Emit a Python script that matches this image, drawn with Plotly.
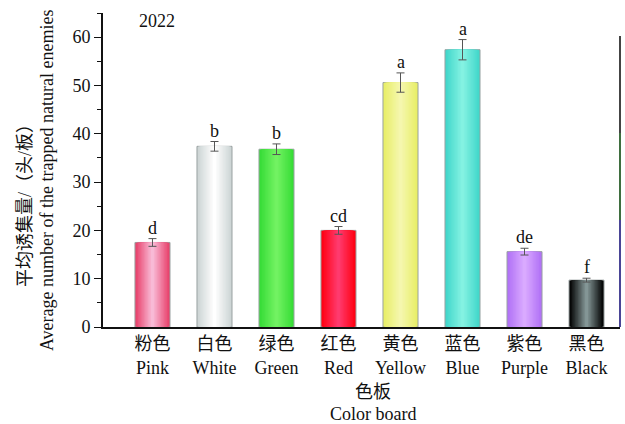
import plotly.graph_objects as go

# Mean number of natural enemies trapped per colour board (2022)
categories = ["粉色<br>Pink", "白色<br>White", "绿色<br>Green", "红色<br>Red",
              "黄色<br>Yellow", "蓝色<br>Blue", "紫色<br>Purple", "黑色<br>Black"]
means = [17.5, 37.4, 36.8, 20.0, 50.6, 57.4, 15.6, 9.7]
errors = [0.8, 1.0, 1.1, 0.8, 2.0, 2.1, 0.7, 0.4]
letters = ["d", "b", "b", "cd", "a", "a", "de", "f"]

# edge / centre colours for the shaded bar faces
edge_colors = ["#e8406a", "#ccd4d4", "#36dc36", "#ff0010", "#e8ee66", "#40d6ca", "#b070f6", "#000000"]
center_colors = ["#f8bad6", "#ffffff", "#72f262", "#ff3a6e", "#f5f7ae", "#84f2e2", "#daaaff", "#849696"]

FONT = "Liberation Serif, Noto Sans CJK SC, serif"
FS = 18
BAR_W = 0.565
LAYERS = 12


def hex2rgb(h):
    h = h.lstrip("#")
    return [int(h[i:i + 2], 16) for i in (0, 2, 4)]


def mix(c1, c2, t):
    a, b = hex2rgb(c1), hex2rgb(c2)
    r = [round(a[i] + (b[i] - a[i]) * t) for i in range(3)]
    return "rgb({},{},{})".format(*r)


fig = go.Figure()

# stacked-width overlay layers give each bar a horizontal light-centre shading
for k in range(LAYERS):
    frac = 1 - k / LAYERS
    t = k / (LAYERS - 1)
    fig.add_trace(go.Bar(
        x=categories, y=means, width=BAR_W * frac,
        marker=dict(color=[mix(e, c, t) for e, c in zip(edge_colors, center_colors)],
                    line=dict(color="#9aa2a2" if k == 0 else "rgba(0,0,0,0)", width=1 if k == 0 else 0)),
        showlegend=False, hoverinfo="skip" if k else None,
    ))

# standard error bars
fig.add_trace(go.Scatter(
    x=categories, y=means, mode="markers",
    marker=dict(opacity=0, size=1),
    error_y=dict(type="data", array=errors, visible=True, color="#555555", thickness=1, width=4),
    showlegend=False, hoverinfo="skip",
))

txt = dict(family=FONT, size=FS, color="#111")
annotations = []
for cat, m, e, lt in zip(categories, means, errors, letters):
    annotations.append(dict(x=cat, y=m + e, xref="x", yref="y", text=lt, showarrow=False,
                            yanchor="bottom", yshift=-1, font=txt))

annotations += [
    dict(x=0.1044, y=0.975, xref="paper", yref="paper", text="2022", showarrow=False,
         xanchor="center", yanchor="middle", font=txt),
    dict(x=-0.1509, y=0.401, xref="paper", yref="paper", text="平均诱集量/（头/板）",
         textangle=-90, showarrow=False, xanchor="center", yanchor="middle", font=txt),
    dict(x=-0.1083, y=0.468, xref="paper", yref="paper",
         text="Average number of the trapped natural enemies",
         textangle=-90, showarrow=False, xanchor="center", yanchor="middle", font=txt),
    dict(x=0.522, y=-0.207, xref="paper", yref="paper", text="色板", showarrow=False,
         xanchor="center", yanchor="middle", font=txt),
    dict(x=0.522, y=-0.277, xref="paper", yref="paper", text="Color board", showarrow=False,
         xanchor="center", yanchor="middle", font=txt),
]

# edge of the neighbouring panel on the right
shapes = [
    dict(type="line", xref="paper", yref="paper", x0=1.0, x1=1.0, y0=0.618, y1=0.927,
         line=dict(color="#444444", width=2), layer="above"),
    dict(type="line", xref="paper", yref="paper", x0=1.0, x1=1.0, y0=0.341, y1=0.618,
         line=dict(color="#3f6e3f", width=2), layer="above"),
    dict(type="line", xref="paper", yref="paper", x0=1.0, x1=1.0, y0=0.0, y1=0.341,
         line=dict(color="#4a4596", width=2), layer="above"),
]

fig.update_layout(
    width=625, height=424,
    margin=dict(l=103, r=5, t=13, b=97),
    paper_bgcolor="white", plot_bgcolor="white",
    barmode="overlay",
    font=txt,
    annotations=annotations, shapes=shapes,
    xaxis=dict(
        range=[-0.798, 7.54], showline=True, linecolor="#111", linewidth=1.5,
        ticks="", showgrid=False, zeroline=False, tickfont=txt,
    ),
    yaxis=dict(
        range=[0, 65], dtick=10, tick0=0, showline=True, linecolor="#111", linewidth=2,
        ticks="outside", ticklen=7, tickwidth=1.2, tickcolor="#111",
        minor=dict(ticks="outside", ticklen=4, dtick=5, tick0=0, tickcolor="#111", tickwidth=1),
        showgrid=False, zeroline=False, tickfont=txt,
    ),
)

fig.write_html("out.html")
